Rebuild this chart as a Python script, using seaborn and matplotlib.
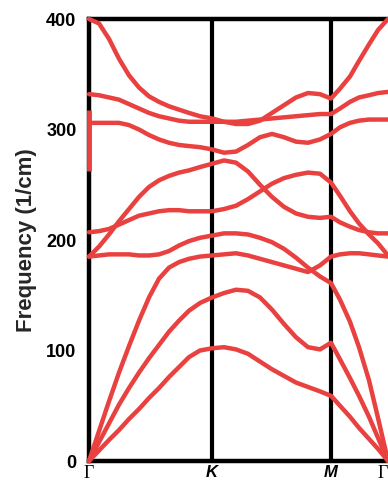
import numpy as np
import pandas as pd
import seaborn as sns
import matplotlib.pyplot as plt

# k-path positions (arbitrary distance units along G-K-M-G)
K_PATH = [0, 10, 20, 30, 40, 50, 60, 70, 80, 90, 100, 111, 123,
          135, 147, 159, 171, 183, 195, 207, 219, 231, 242,
          251, 261, 270, 280, 289, 299]
TICK_POS = [0, 123, 242, 299]
TICK_LABELS = ["Γ", "K", "M", "Γ"]

# phonon branches, frequency in 1/cm at each K_PATH point
band_a = [0, 9.5, 19, 28, 38, 47, 57, 66, 76, 85, 94, 100, 102,
          103, 101, 97, 90, 83, 77, 71, 67, 63, 59,
          50, 40, 30, 20, 11, 0]
band_b = [0, 17, 34, 51, 66, 80, 93, 105, 117, 127, 136, 143, 148,
          152, 155, 154, 148, 137, 124, 112, 103, 101, 107,
          92, 75, 59, 40, 21, 0]
band_c = [0, 27, 54, 80, 104, 127, 148, 165, 175, 180, 183, 185, 186,
          187, 188, 186, 183, 180, 177, 174, 171, 177, 185,
          187, 188, 188, 187, 186, 185]
band_d = [185, 186, 187, 187, 187, 186, 186, 187, 190, 195, 199, 202, 204,
          206, 206, 205, 202, 198, 192, 184, 175, 167, 161,
          146, 126, 103, 73, 39, 0]
band_e = [207, 208, 210, 214, 218, 222, 224, 226, 227, 227, 226, 226, 226,
          228, 231, 237, 244, 251, 256, 259, 261, 260, 252,
          240, 226, 215, 205, 197, 186]
band_f = [185, 194, 205, 217, 228, 239, 248, 254, 258, 261, 263, 266, 269,
          272, 270, 262, 250, 239, 230, 224, 221, 220, 221,
          216, 212, 209, 207, 206, 206]
band_g = [306, 306, 306, 306, 304, 300, 295, 291, 288, 286, 285, 284, 282,
          279, 280, 286, 293, 296, 293, 289, 288, 291, 296,
          302, 306, 308, 309, 309, 309]
band_h = [332, 331, 329, 327, 323, 319, 315, 312, 310, 308, 307, 307, 307,
          307, 307, 308, 309, 310, 311, 312, 313, 314, 314,
          319, 325, 329, 331, 333, 334]
band_i = [400, 396, 382, 364, 349, 338, 330, 325, 321, 318, 315, 312, 310,
          307, 305, 305, 308, 315, 322, 329, 333, 332, 328,
          337, 348, 362, 377, 390, 400]

# stray red stroke drawn over the left axis in the original
stray_k = [0, 0]
stray_f = [262, 318]

bands = [band_a, band_b, band_c, band_d, band_e, band_f, band_g, band_h, band_i]
df = pd.DataFrame({
    "k": np.tile(K_PATH, len(bands)),
    "freq": np.concatenate(bands),
    "band": np.repeat(np.arange(len(bands)), len(K_PATH)),
})

RED = "#e8413f"

sns.set_theme(style="white")
plt.rcParams["font.family"] = ["Liberation Sans", "DejaVu Sans"]

fig = plt.figure(figsize=(3.88, 4.86), dpi=100)
ax = fig.add_axes([89 / 388, 25 / 486, 301 / 388, 442 / 486])

for pos in TICK_POS[1:3]:
    ax.axvline(pos, color="black", lw=3, zorder=1)

sns.lineplot(data=df, x="k", y="freq", units="band", estimator=None,
             color=RED, lw=3.2, ax=ax, zorder=5, clip_on=False)
ax.plot(stray_k, stray_f, color=RED, lw=3.5, zorder=6, clip_on=False,
        solid_capstyle="butt")

ax.set_xlim(0, 301)
ax.set_ylim(0, 400)
ax.set_yticks([0, 100, 200, 300, 400])
ax.set_yticklabels(["0", "100", "200", "300", "400"],
                   fontsize=13, fontweight="bold")
ax.set_xticks(TICK_POS)
ax.set_xticklabels(TICK_LABELS)
xlabels = ax.get_xticklabels()
for lbl, txt in zip(xlabels, TICK_LABELS):
    if txt == "Γ":
        lbl.set_fontfamily("Liberation Serif")
        lbl.set_fontsize(13)
    else:
        lbl.set_fontsize(12)
        lbl.set_fontweight("bold")
        lbl.set_fontstyle("italic")
# last Γ sits at the figure edge: right-align it so it stays visible
xlabels[-1].set_horizontalalignment("right")
ax.tick_params(axis="y", length=0, pad=9, colors="black")
ax.tick_params(axis="x", length=0, pad=3, colors="black")

ax.set_xlabel("")
ax.set_ylabel("Frequency (1/cm)", fontsize=16, fontweight="bold", labelpad=7)

for side in ["left", "right", "top", "bottom"]:
    ax.spines[side].set_color("black")
    ax.spines[side].set_linewidth(3.2)
    ax.spines[side].set_zorder(2)

fig.savefig("out.png", dpi=100)
